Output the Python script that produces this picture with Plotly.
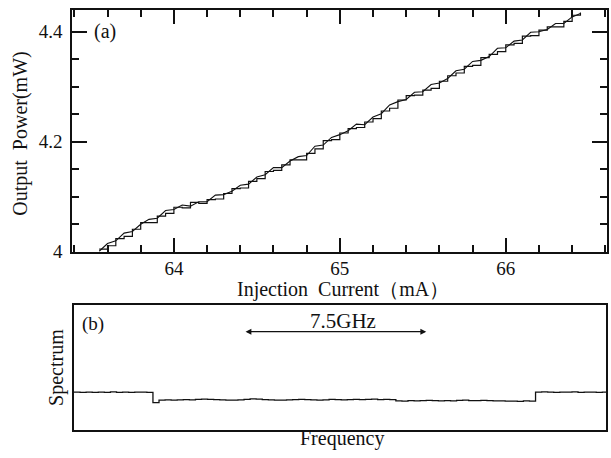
import plotly.graph_objects as go

# ---- panel (a): output power vs injection current, two sweeps ----
current_ma = [63.55, 63.60, 63.65, 63.70, 63.75, 63.80, 63.85, 63.90, 63.95, 64.00,
              64.05, 64.10, 64.15, 64.20, 64.25, 64.30, 64.35, 64.40, 64.45, 64.50,
              64.55, 64.60, 64.65, 64.70, 64.75, 64.80, 64.85, 64.90, 64.95, 65.00,
              65.05, 65.10, 65.15, 65.20, 65.25, 65.30, 65.35, 65.40, 65.45, 65.50,
              65.55, 65.60, 65.65, 65.70, 65.75, 65.80, 65.85, 65.90, 65.95, 66.00,
              66.05, 66.10, 66.15, 66.20, 66.25, 66.30, 66.35, 66.40, 66.45]

power_up_mw = [4.005, 4.011, 4.024, 4.028, 4.041, 4.053, 4.053, 4.065, 4.070, 4.081,
               4.080, 4.090, 4.088, 4.095, 4.096, 4.106, 4.115, 4.116, 4.128, 4.133,
               4.146, 4.148, 4.158, 4.167, 4.167, 4.179, 4.187, 4.202, 4.204, 4.216,
               4.224, 4.226, 4.236, 4.242, 4.256, 4.261, 4.276, 4.284, 4.285, 4.294,
               4.297, 4.310, 4.320, 4.325, 4.337, 4.339, 4.353, 4.359, 4.364, 4.376,
               4.379, 4.392, 4.393, 4.403, 4.409, 4.409, 4.419, 4.430, 4.435]

power_down_mw = [4.001, 4.015, 4.020, 4.034, 4.037, 4.050, 4.059, 4.061, 4.075, 4.077,
                 4.085, 4.083, 4.091, 4.091, 4.103, 4.104, 4.110, 4.121, 4.123, 4.136,
                 4.140, 4.153, 4.153, 4.165, 4.173, 4.175, 4.192, 4.194, 4.208, 4.213,
                 4.220, 4.232, 4.231, 4.245, 4.251, 4.267, 4.273, 4.277, 4.290, 4.291,
                 4.304, 4.307, 4.315, 4.329, 4.332, 4.346, 4.348, 4.355, 4.370, 4.371,
                 4.383, 4.385, 4.399, 4.400, 4.404, 4.415, 4.415, 4.427, 4.433]

power_ticks = [4.0, 4.2, 4.4]
power_tick_text = ["4", "4.2", "4.4"]
current_ticks = [64, 65, 66]

# ---- panel (b): transmission spectrum (relative level) ----
freq_ghz = [0.00, 0.25, 0.50, 0.75, 1.00, 1.25, 1.50, 1.75, 2.00, 2.25,
            2.50, 2.75, 3.00, 3.25, 3.50, 3.75, 4.00, 4.25, 4.50, 4.75,
            5.00, 5.25, 5.50, 5.75, 6.00, 6.25, 6.50, 6.75, 7.00, 7.25,
            7.50, 7.75, 8.00, 8.25, 8.50, 8.75, 9.00, 9.25, 9.50, 9.75,
            10.00, 10.25, 10.50, 10.75, 11.00, 11.25, 11.50, 11.75, 12.00, 12.25,
            12.50, 12.75, 13.00, 13.25, 13.50, 13.75, 14.00, 14.25, 14.50, 14.75,
            15.00, 15.25, 15.50, 15.75, 16.00, 16.25, 16.50, 16.75, 17.00, 17.25,
            17.50, 17.75, 18.00, 18.25, 18.50, 18.75, 19.00, 19.25, 19.50, 19.75,
            20.00, 20.25, 20.50, 20.75, 21.00, 21.25, 21.50, 21.75, 21.90]

spectrum_level = [0.306, 0.305, 0.307, 0.304, 0.306, 0.305, 0.308, 0.305, 0.306, 0.304,
                  0.307, 0.306, 0.305, 0.222, 0.243, 0.245, 0.242, 0.244, 0.246, 0.245,
                  0.248, 0.251, 0.248, 0.246, 0.244, 0.242, 0.243, 0.245, 0.248, 0.252,
                  0.250, 0.247, 0.244, 0.242, 0.243, 0.245, 0.247, 0.249, 0.246, 0.244,
                  0.243, 0.245, 0.248, 0.246, 0.244, 0.247, 0.249, 0.246, 0.248, 0.250,
                  0.247, 0.248, 0.246, 0.237, 0.235, 0.238, 0.236, 0.239, 0.241, 0.238,
                  0.236, 0.239, 0.237, 0.240, 0.242, 0.239, 0.238, 0.240, 0.238, 0.236,
                  0.237, 0.234, 0.235, 0.233, 0.236, 0.234, 0.306, 0.308, 0.307, 0.305,
                  0.307, 0.306, 0.308, 0.305, 0.306, 0.307, 0.305, 0.306, 0.306]

span_start_ghz = 7.0
span_ghz = 7.5

W, H = 611, 458
FONT = "'Liberation Serif', 'Times New Roman', serif"
INK = "#111111"


def px(x):
    return x / W


def py(y):
    return 1 - y / H


fig = go.Figure()

fig.add_trace(go.Scatter(x=current_ma, y=power_up_mw, mode="lines",
                         line=dict(color=INK, width=1.2, shape="hv"),
                         xaxis="x", yaxis="y", showlegend=False))
fig.add_trace(go.Scatter(x=current_ma, y=power_down_mw, mode="lines",
                         line=dict(color=INK, width=1.1),
                         xaxis="x", yaxis="y", showlegend=False))
fig.add_trace(go.Scatter(x=freq_ghz, y=spectrum_level, mode="lines",
                         line=dict(color=INK, width=1.3, shape="hv"),
                         xaxis="x2", yaxis="y2", showlegend=False))

axis_common = dict(showline=True, linecolor=INK, linewidth=1.5, mirror="allticks",
                   showgrid=False, zeroline=False, ticks="inside", tickcolor=INK,
                   tickwidth=1.5, tickfont=dict(family=FONT, size=19, color=INK))

fig.update_layout(
    width=W, height=H,
    margin=dict(l=0, r=0, t=0, b=0),
    paper_bgcolor="white", plot_bgcolor="white",
    font=dict(family=FONT, size=20, color=INK),
    xaxis=dict(domain=[px(72), px(607)], range=[63.386, 66.61],
               tickvals=current_ticks, ticklen=14, ticklabelstandoff=-1,
               minor=dict(ticks="inside", dtick=0.2, tick0=64, ticklen=7,
                          tickwidth=1.5, tickcolor=INK, showgrid=False),
               anchor="y", **axis_common),
    yaxis=dict(domain=[py(258), py(10)], range=[4.0, 4.44],
               tickvals=power_ticks, ticktext=power_tick_text, ticklen=15,
               ticklabelstandoff=4,
               minor=dict(ticks="inside", dtick=0.05, tick0=4, ticklen=7,
                          tickwidth=1.5, tickcolor=INK, showgrid=False),
               anchor="x", **axis_common),
    xaxis2=dict(domain=[px(74), px(606)], range=[0, 21.9], showline=True,
                linecolor=INK, linewidth=1.5, mirror=True, showgrid=False,
                zeroline=False, showticklabels=False, ticks="", anchor="y2"),
    yaxis2=dict(domain=[py(441), py(313)], range=[0, 1], showline=True,
                linecolor=INK, linewidth=1.5, mirror=True, showgrid=False,
                zeroline=False, showticklabels=False, ticks="", anchor="x2"),
)

text_style = dict(family=FONT, size=20, color=INK)
labels = [
    ("Output  Power(mW)", 21, 137, -90),
    ("Injection  Current（mA）", 343, 297, 0),
    ("Spectrum", 57, 377, -90),
    ("Frequency", 342, 449, 0),
    ("(a)", 105, 32, 0),
]
for text, x, y, angle in labels:
    fig.add_annotation(text=text, x=px(x), y=py(y), xref="paper", yref="paper",
                       showarrow=False, textangle=angle, font=text_style,
                       xanchor="center", yanchor="middle")

fig.add_annotation(text="(b)", x=0.035, y=0.85, xref="x2 domain", yref="y2 domain",
                   showarrow=False, font=dict(family=FONT, size=19, color=INK),
                   xanchor="center", yanchor="middle")

# double-headed arrow marking the 7.5 GHz span
fig.add_annotation(x=span_start_ghz + span_ghz, y=0.79, ax=span_start_ghz, ay=0.79,
                   xref="x2", yref="y2", axref="x2", ayref="y2", text="",
                   showarrow=True, arrowside="end+start", arrowhead=2,
                   arrowsize=0.9, arrowwidth=1.3, arrowcolor=INK)
fig.add_annotation(text="7.5GHz", x=span_start_ghz + span_ghz / 2, y=0.80,
                   xref="x2", yref="y2", showarrow=False,
                   font=dict(family=FONT, size=21, color=INK),
                   xanchor="center", yanchor="bottom", yshift=-5, xshift=8)

fig.write_html("out.html")
